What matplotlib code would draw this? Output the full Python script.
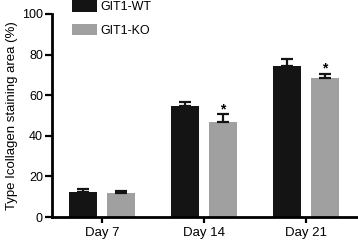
import numpy as np
import matplotlib
matplotlib.use("Agg")
import matplotlib.pyplot as plt

plt.rcParams['font.family'] = ['Liberation Sans', 'DejaVu Sans']
plt.rcParams['font.size'] = 9

days = ['Day 7', 'Day 14', 'Day 21']
wt = [12.5, 54.5, 74.5]
wt_err = [1.3, 2.2, 3.3]
ko = [11.6, 47.0, 68.5]
ko_err = [1.2, 3.6, 2.0]
signif = [False, True, True]

fig = plt.figure(figsize=(3.58, 2.42), dpi=100)
ax = fig.add_axes([52/358, 25/242, 1 - 52/358, 203/242])

x = np.arange(len(days))
w = 0.275
off = 0.186
black = '#141414'
grey = '#a0a0a0'

ax.bar(x - off, wt, w, color=black, label='GIT1-WT', zorder=2)
ax.bar(x + off, ko, w, color=grey, label='GIT1-KO', zorder=2)
ax.errorbar(x - off, wt, yerr=[np.zeros(3), wt_err], fmt='none', ecolor=black,
            elinewidth=1.6, capsize=4.5, capthick=1.6, zorder=3)
ax.errorbar(x + off, ko, yerr=[np.zeros(3), ko_err], fmt='none', ecolor=black,
            elinewidth=1.6, capsize=4.5, capthick=1.6, zorder=3)

# significance stars above the KO bars
for i in range(len(days)):
    if signif[i]:
        ax.annotate('*', (x[i] + off, ko[i] + ko_err[i]), xytext=(0, -1.5),
                    textcoords='offset points', ha='center', va='bottom',
                    fontsize=10, fontweight='bold')

ax.set_xlim(-0.49, 2.51)
ax.set_ylim(0, 100)
ax.set_yticks([0, 20, 40, 60, 80, 100])
ax.set_xticks(x)
ax.set_xticklabels(days, fontsize=9.5)
ax.set_ylabel('Type Icollagen staining area (%)', fontsize=9.5, labelpad=3)

for s in ['top', 'right']:
    ax.spines[s].set_visible(False)
for s in ['left', 'bottom']:
    ax.spines[s].set_linewidth(2)
ax.tick_params(axis='y', width=1.6, length=5, pad=1.5)
ax.tick_params(axis='x', width=1.6, length=4, pad=3)

fig.legend(loc='upper left', bbox_to_anchor=(72/358, 1.0), frameon=False,
           borderpad=0, borderaxespad=0, handlelength=2.0, handleheight=1.05,
           handletextpad=0.25, labelspacing=0.85, fontsize=9)

fig.savefig('out.png', dpi=100)
